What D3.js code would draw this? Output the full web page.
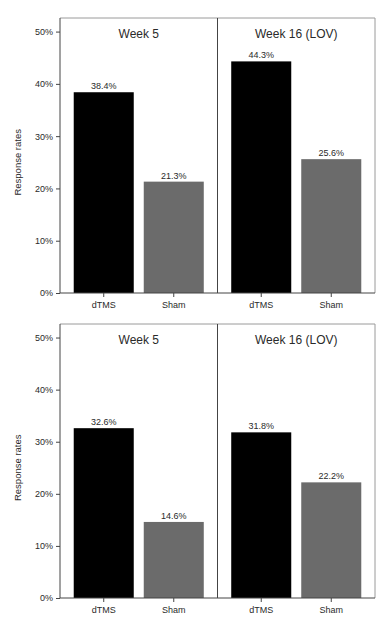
<!DOCTYPE html>
<html>
<head>
<meta charset="utf-8">
<script src="https://cdn.jsdelivr.net/npm/d3@7"></script>
<style>
  body { margin: 0; background: #fff; }
  text { font-family: "Liberation Sans", Arial, sans-serif; fill: #2a2a2a; }
</style>
</head>
<body>
<div id="chart"></div>
<script>
// data
const panels = ["Week 5", "Week 16 (LOV)"];
const groups = ["dTMS", "Sham"];
const topValues = [[38.4, 21.3], [44.3, 25.6]];     // upper chart, per panel: dTMS, Sham
const bottomValues = [[32.6, 14.6], [31.8, 22.2]];  // lower chart
const yTicks = [0, 10, 20, 30, 40, 50];
const barColors = { dTMS: "#000000", Sham: "#6b6b6b" };

const W = 387, H = 631;
const svg = d3.select("#chart").append("svg")
    .attr("width", W)
    .attr("height", H);

const left = 60, right = 375;

function drawChart(values, top, bottom) {
    const g = svg.append("g");

    const y = d3.scaleLinear()
        .domain([0, 52.6])
        .range([bottom, top]);

    const xPanel = d3.scaleBand()
        .domain(panels)
        .range([left, right]);

    // light top/right edges of the frame
    g.append("path")
        .attr("d", `M${left},${top}H${right}V${bottom}`)
        .attr("fill", "none")
        .attr("stroke", "#9a9a9a");

    // bars
    panels.forEach((p, i) => {
        const xs = d3.scaleBand().domain(groups)
            .range([xPanel(p), xPanel(p) + xPanel.bandwidth()])
            .paddingInner(1 / 7).paddingOuter(0.196);
        const pg = g.append("g");
        groups.forEach((grp, j) => {
            const v = values[i][j];
            pg.append("rect")
                .attr("x", xs(grp))
                .attr("y", y(v))
                .attr("width", xs.bandwidth())
                .attr("height", y(0) - y(v))
                .attr("fill", barColors[grp]);
            pg.append("text")
                .attr("x", xs(grp) + xs.bandwidth() / 2)
                .attr("y", y(v) - 3)
                .attr("text-anchor", "middle")
                .attr("font-size", 9)
                .text(v.toFixed(1) + "%");
        });

        // panel title
        pg.append("text")
            .attr("x", xPanel(p) + xPanel.bandwidth() / 2)
            .attr("y", y(50) + 6)
            .attr("text-anchor", "middle")
            .attr("font-size", 12)
            .text(p);

        // x axis per panel
        const ax = g.append("g")
            .attr("transform", `translate(0,${bottom})`)
            .call(d3.axisBottom(xs).tickSize(4).tickPadding(5).tickSizeOuter(0));
        ax.select(".domain").remove();
        ax.selectAll("line").attr("stroke", "#444");
        ax.selectAll("text").attr("font-size", 9).style("font-family", null);
    });

    // left edge, divider, baseline
    g.append("path")
        .attr("d", `M${left},${top}V${bottom}H${right}`)
        .attr("fill", "none")
        .attr("stroke", "#444");
    g.append("line")
        .attr("x1", xPanel(panels[1])).attr("x2", xPanel(panels[1]))
        .attr("y1", top).attr("y2", bottom)
        .attr("stroke", "#444");

    // y axis
    const ay = g.append("g")
        .attr("transform", `translate(${left},0)`)
        .call(d3.axisLeft(y)
            .tickValues(yTicks)
            .tickFormat(d => d + "%")
            .tickSize(4)
            .tickPadding(3));
    ay.select(".domain").remove();
    ay.selectAll("line").attr("stroke", "#444");
    ay.selectAll("text").attr("font-size", 9).style("font-family", null);

    // y title
    g.append("text")
        .attr("transform", `translate(21,${(y(0) + y(50)) / 2}) rotate(-90)`)
        .attr("text-anchor", "middle")
        .attr("font-size", 9.5)
        .text("Response rates");
}

drawChart(topValues, 18, 293);
drawChart(bottomValues, 324, 598);
</script>
</body>
</html>
